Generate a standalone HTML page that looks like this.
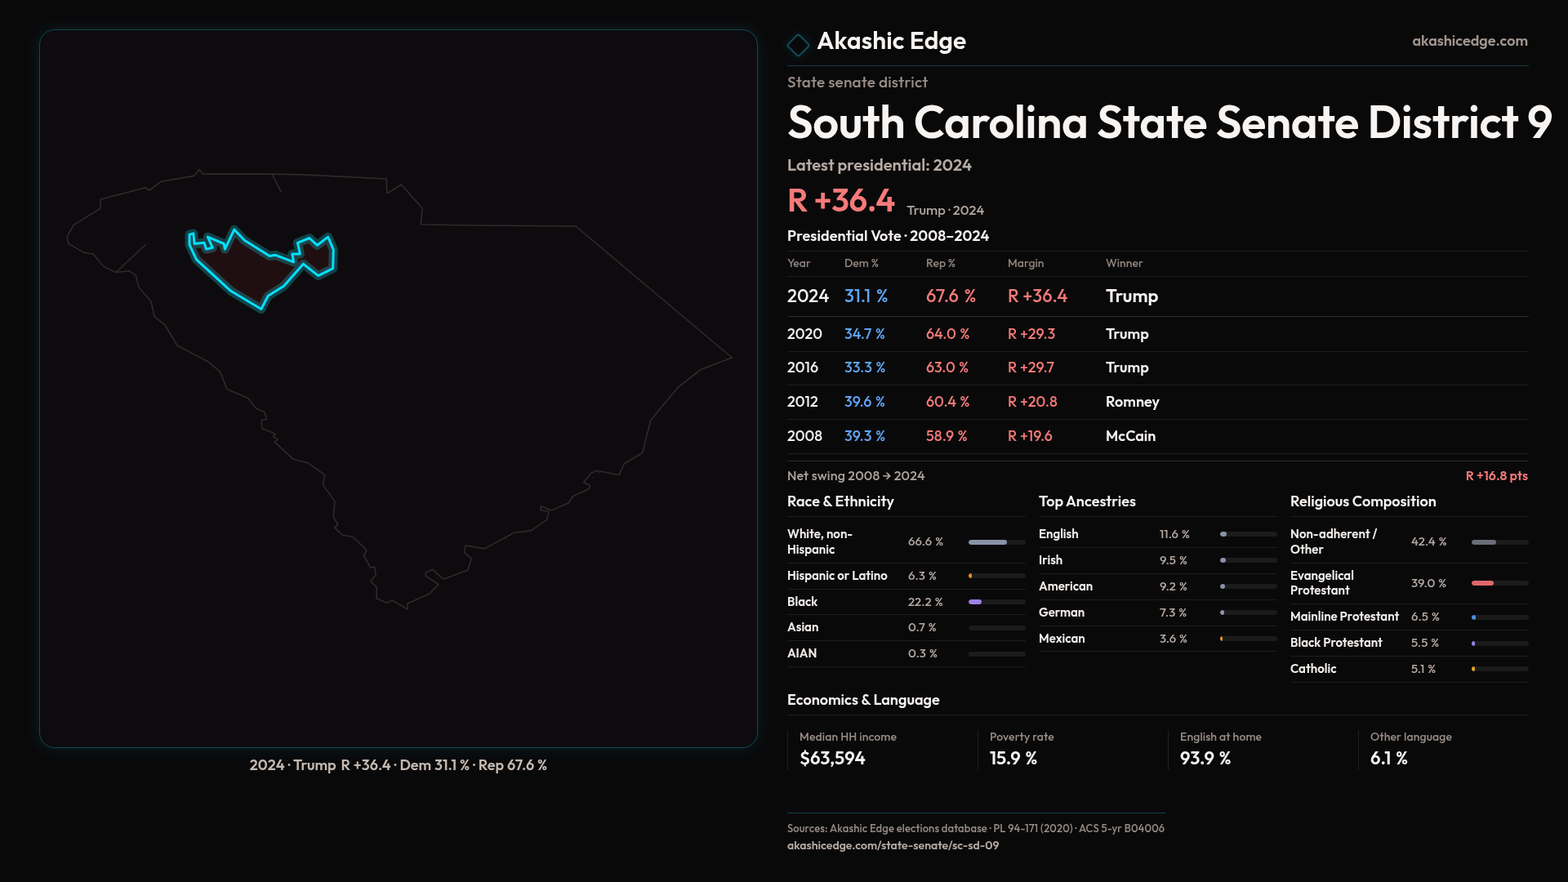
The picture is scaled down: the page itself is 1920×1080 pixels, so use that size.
<!DOCTYPE html>
<html lang="en">
<head>
<meta charset="utf-8">
<title>South Carolina State Senate District 9 — Akashic Edge</title>
<style>
*{box-sizing:border-box;margin:0;padding:0}
html,body{width:1920px;height:1080px;overflow:hidden}
body{background:#0a090a;color:#f5f2ef;font-family:"Outfit","Liberation Sans",sans-serif;position:relative}
.abs{position:absolute;white-space:nowrap}
.panel{position:absolute;left:48px;top:36px;width:880px;height:880px;border:1px solid #114954;border-radius:19px;background:#0d0b0d;box-shadow:0 0 18px rgba(20,120,140,0.2)}
.panel svg{position:absolute;left:-49px;top:-37px}
.caption{left:0;width:976px;text-align:center;top:925px;font-size:17px;font-weight:500;color:#c9c0b8}
.muted{color:#948a84}
.light{color:#b8aea7}
.red{color:#f07a78}
.blue{color:#5aa2f5}
.hline{position:absolute;height:1px;background:#1f1d1e}

.t{position:absolute;white-space:nowrap;line-height:1}
.w6{font-weight:600}.w5{font-weight:500}
.hl{position:absolute;height:1px;background:#1e1c1d}
.col{position:absolute;top:633px;width:292px}
.col .rows{padding-top:6px}
.row{display:flex;align-items:center;border-bottom:1px solid #1e1c1d;padding:6px 0 6.15px;position:relative}
.row .lb{width:148px;padding-right:13px !important;font-size:15px;font-weight:600;line-height:18.75px;color:#f3efec;white-space:normal;padding-right:4px}
.row .vl{width:74px;word-spacing:1px;font-size:15px;font-weight:500;line-height:18.75px;color:#b3a8a1;white-space:nowrap}
.row .bar{width:70px;height:6px;border-radius:3px;background:#1c1b1c;position:relative;overflow:hidden}
.row .bar i{position:absolute;left:0;top:0;bottom:0;border-radius:3px;display:block}
.stat{position:absolute;top:894px;height:49px;border-left:1px solid #211f20;padding-left:15px}
.stat .k{position:absolute;left:14px;top:1px;font-size:14px;font-weight:500;letter-spacing:0.12px;color:#998e87;white-space:nowrap;line-height:1}
.stat .v{position:absolute;word-spacing:1.5px;left:14px;top:23px;font-size:22px;font-weight:600;color:#f5f2ef;white-space:nowrap;line-height:1}
</style>
</head>
<body>
<div class="panel">
<svg width="976" height="960" viewBox="0 0 976 960">
<path fill="none" stroke="#2d2a2b" stroke-width="1.6" stroke-linejoin="round" d="M244.1,207.6 L248.7,213.1 L333,213.1 L370,213.9 L473.3,219 L473.75,236.7 L491.5,226 L517.3,255.2 L515.2,274.7 L560,275.7 L705,277 L896.25,438 L858,452.5 L830,474.5 L796.75,514.5 L786.7,554.2 L764.2,568 L758,581.7 L730.8,576.3 L723.3,579.7 L714.7,590.8 L722.5,594.2 L721.2,598.7 L701.7,607.5 L696.3,615.8 L675.3,625 L662.5,619.7 L661.7,624.7 L672,626.3 L669.7,636.3 L650,649.9 L629.5,652.3 L593.4,671.9 L570,667.9 L568.8,676.9 L577.2,683.9 L573,698 L542.9,709.2 L529.7,697.4 L521.8,700.4 L520.9,704.9 L536.9,715.7 L526,726.9 L499,738.9 L499.2,746.1 L479.7,734.7 L474.3,738.3 L461.1,732.9 L461.1,719.3 L453.8,711.2 L460.2,704 L458.7,694.4 L453.8,695 L445.4,680.5 L449,673.9 L432.8,657.8 L418.9,655 L409.7,646.1 L413.9,642.2 L408.3,633.3 L410,613.9 L395.6,593.9 L397.5,581.4 L376.7,566.7 L358.6,561.9 L336.1,541.1 L340.3,538.3 L334.2,534.2 L337.5,531.4 L320.8,524.4 L320.3,514.7 L326.7,513.3 L323.6,504.4 L313.9,500.3 L303.6,487.5 L277.8,476.4 L269.7,455.6 L256.4,443.9 L217,423 L202.2,398 L189.2,387.8 L184.8,368.7 L170,352 L166.3,337.2 L158,331.7 L141.9,333.5 L126.5,326.1 L114.4,311.3 L103,309.4 L83.9,298.3 L82,290.4 L90,275.6 L122.8,255.2 L123.3,244.1 L178.3,229.8 L183,233 L196.9,222.4 L237.6,215.4 Z M333,213.1 L344.4,235.4 M141.9,333.5 L178.3,299.6 M618.8,658.4 L619.8,659.4 M725.3,584.2 L726.3,585.2 M733.3,578.7 L734.3,579.7"/>
<g stroke-linejoin="round" stroke-linecap="round">
<path fill="#200f10" d="M232,287.1 L236.8,285.9 L238.1,298.5 L250.1,297.3 L252.5,305.1 L260.3,303.3 L254.3,290.1 L274.2,298.5 L275.4,305.1 L286.8,281.1 L299.4,294.3 L330.1,313.5 L337.3,312.3 L359.6,320.8 L357.8,311.1 L367.4,311.1 L364.4,297.3 L378.8,291.5 L388.5,300.3 L401.7,290.1 L408.3,305.7 L407.7,328.6 L389.7,337.6 L371.4,323.2 L347.6,350.3 L328.3,362.3 L319.9,378.5 L282.6,356.3 L240.5,317.8 L232,299.7 Z"/>
<path fill="none" stroke="rgba(34,211,238,0.27)" stroke-width="11" d="M232,287.1 L236.8,285.9 L238.1,298.5 L250.1,297.3 L252.5,305.1 L260.3,303.3 L254.3,290.1 L274.2,298.5 L275.4,305.1 L286.8,281.1 L299.4,294.3 L330.1,313.5 L337.3,312.3 L359.6,320.8 L357.8,311.1 L367.4,311.1 L364.4,297.3 L378.8,291.5 L388.5,300.3 L401.7,290.1 L408.3,305.7 L407.7,328.6 L389.7,337.6 L371.4,323.2 L347.6,350.3 L328.3,362.3 L319.9,378.5 L282.6,356.3 L240.5,317.8 L232,299.7 Z"/>
<path fill="none" stroke="#04e0fb" stroke-width="3" d="M232,287.1 L236.8,285.9 L238.1,298.5 L250.1,297.3 L252.5,305.1 L260.3,303.3 L254.3,290.1 L274.2,298.5 L275.4,305.1 L286.8,281.1 L299.4,294.3 L330.1,313.5 L337.3,312.3 L359.6,320.8 L357.8,311.1 L367.4,311.1 L364.4,297.3 L378.8,291.5 L388.5,300.3 L401.7,290.1 L408.3,305.7 L407.7,328.6 L389.7,337.6 L371.4,323.2 L347.6,350.3 L328.3,362.3 L319.9,378.5 L282.6,356.3 L240.5,317.8 L232,299.7 Z"/>
</g>
</svg>
</div>
<div class="t" style="left:0;width:976px;text-align:center;top:927.9px;font-size:18px;font-weight:600;word-spacing:0.35px;color:#c3b9b1">2024 · Trump <span style="margin-left:2px">R +36.4</span> · Dem 31.1 % · Rep 67.6 %</div>

<svg class="t" style="left:959px;top:36.5px" width="37" height="37" viewBox="0 0 37 37" overflow="visible"><defs><filter id="gl" x="-80%" y="-80%" width="260%" height="260%"><feGaussianBlur stdDeviation="4"/></filter></defs><rect x="8.75" y="8.75" width="19.5" height="19.5" rx="2.5" transform="rotate(45 18.5 18.5)" fill="none" stroke="#0c3a44" stroke-width="5" filter="url(#gl)" opacity="0.45"/><rect x="8.75" y="8.75" width="19.5" height="19.5" rx="2.5" transform="rotate(45 18.5 18.5)" fill="#0a090a" stroke="#0f4b56" stroke-width="2.1"/></svg>
<div class="t" style="left:1000px;top:34px;font-size:30px;font-weight:600;color:#f7f4f1;letter-spacing:0.15px">Akashic Edge</div>
<div class="t" style="right:49px;top:41.3px;font-size:18px;font-weight:600;color:#a1968f">akashicedge.com</div>
<div class="hl" style="left:964px;top:80px;width:908px;background:#153f47"></div>
<div class="t" style="left:964px;top:91px;font-size:19px;font-weight:500;color:#998e87;letter-spacing:0.15px">State senate district</div>
<div class="t" style="left:964px;top:121px;font-size:56px;font-weight:600;color:#f7f4f1;letter-spacing:-0.42px">South Carolina State Senate District 9</div>
<div class="t" style="left:964px;top:191.8px;font-size:20px;font-weight:600;color:#b5aaa3">Latest presidential: 2024</div>
<div class="t" style="left:964px;top:224px;font-size:40px;font-weight:600;color:#f67a7a;letter-spacing:-0.5px">R +36.4</div>
<div class="t" style="left:1110.3px;top:249.2px;font-size:16.5px;font-weight:500;color:#b0a59e">Trump · 2024</div>
<div class="t" style="left:964px;top:279.5px;font-size:18px;font-weight:600;color:#f5f2ef;letter-spacing:0.1px">Presidential Vote · 2008–2024</div>
<div class="hl" style="left:964px;top:307px;width:908px;background:#1e1c1d"></div>
<div class="t" style="left:964px;top:315px;font-size:14px;font-weight:500;color:#8f857e">Year</div>
<div class="t" style="left:1034px;top:315px;font-size:14px;font-weight:500;color:#8f857e">Dem %</div>
<div class="t" style="left:1134px;top:315px;font-size:14px;font-weight:500;color:#8f857e">Rep %</div>
<div class="t" style="left:1234px;top:315px;font-size:14px;font-weight:500;color:#8f857e">Margin</div>
<div class="t" style="left:1354px;top:315px;font-size:14px;font-weight:500;color:#8f857e">Winner</div>
<div class="hl" style="left:964px;top:338px;width:908px;background:#1e1c1d"></div>
<div class="t" style="left:964px;top:350.5px;font-size:22px;font-weight:500;color:#f5f2ef">2024</div>
<div class="t" style="left:1034px;top:350.5px;font-size:22px;font-weight:500;color:#5fa5f7;word-spacing:2.5px">31.1 %</div>
<div class="t" style="left:1134px;top:350.5px;font-size:22px;font-weight:500;color:#f27a78;word-spacing:2.5px">67.6 %</div>
<div class="t" style="left:1234px;top:350.5px;font-size:22px;font-weight:500;color:#f27a78">R +36.4</div>
<div class="t" style="left:1354px;top:350.5px;font-size:22px;font-weight:600;color:#f5f2ef">Trump</div>
<div class="hl" style="left:964px;top:387px;width:908px;background:#2e2b2c"></div>
<div class="t" style="left:964px;top:400px;font-size:18px;font-weight:500;color:#f5f2ef">2020</div>
<div class="t" style="left:1034px;top:400px;font-size:18px;font-weight:500;color:#5fa5f7;word-spacing:1px">34.7 %</div>
<div class="t" style="left:1134px;top:400px;font-size:18px;font-weight:500;color:#f27a78;word-spacing:1px">64.0 %</div>
<div class="t" style="left:1234px;top:400px;font-size:18px;font-weight:500;color:#f27a78">R +29.3</div>
<div class="t" style="left:1354px;top:400px;font-size:18px;font-weight:600;color:#f5f2ef">Trump</div>
<div class="hl" style="left:964px;top:430px;width:908px;background:#1e1c1d"></div>
<div class="t" style="left:964px;top:441.2px;font-size:18px;font-weight:500;color:#f5f2ef">2016</div>
<div class="t" style="left:1034px;top:441.2px;font-size:18px;font-weight:500;color:#5fa5f7;word-spacing:1px">33.3 %</div>
<div class="t" style="left:1134px;top:441.2px;font-size:18px;font-weight:500;color:#f27a78;word-spacing:1px">63.0 %</div>
<div class="t" style="left:1234px;top:441.2px;font-size:18px;font-weight:500;color:#f27a78">R +29.7</div>
<div class="t" style="left:1354px;top:441.2px;font-size:18px;font-weight:600;color:#f5f2ef">Trump</div>
<div class="hl" style="left:964px;top:471px;width:908px;background:#1e1c1d"></div>
<div class="t" style="left:964px;top:482.9px;font-size:18px;font-weight:500;color:#f5f2ef">2012</div>
<div class="t" style="left:1034px;top:482.9px;font-size:18px;font-weight:500;color:#5fa5f7;word-spacing:1px">39.6 %</div>
<div class="t" style="left:1134px;top:482.9px;font-size:18px;font-weight:500;color:#f27a78;word-spacing:1px">60.4 %</div>
<div class="t" style="left:1234px;top:482.9px;font-size:18px;font-weight:500;color:#f27a78">R +20.8</div>
<div class="t" style="left:1354px;top:482.9px;font-size:18px;font-weight:600;color:#f5f2ef">Romney</div>
<div class="hl" style="left:964px;top:512.5px;width:908px;background:#1e1c1d"></div>
<div class="t" style="left:964px;top:524.7px;font-size:18px;font-weight:500;color:#f5f2ef">2008</div>
<div class="t" style="left:1034px;top:524.7px;font-size:18px;font-weight:500;color:#5fa5f7;word-spacing:1px">39.3 %</div>
<div class="t" style="left:1134px;top:524.7px;font-size:18px;font-weight:500;color:#f27a78;word-spacing:1px">58.9 %</div>
<div class="t" style="left:1234px;top:524.7px;font-size:18px;font-weight:500;color:#f27a78">R +19.6</div>
<div class="t" style="left:1354px;top:524.7px;font-size:18px;font-weight:600;color:#f5f2ef">McCain</div>
<div class="hl" style="left:964px;top:555px;width:908px;background:#1e1c1d"></div>
<div class="hl" style="left:964px;top:564px;width:908px;background:#2c292a"></div>
<div class="t" style="left:964px;top:573.6px;font-size:16px;font-weight:500;color:#aea39c;letter-spacing:0.15px">Net swing 2008 → 2024</div>
<div class="t" style="right:49px;top:573.6px;font-size:16px;font-weight:600;color:#f27a78">R +16.8 pts</div>
<div class="t" style="left:964px;top:604.75px;font-size:18px;font-weight:600;color:#f5f2ef">Race &amp; Ethnicity</div>
<div class="hl" style="left:964px;top:632px;width:292px;background:#1e1c1d"></div>
<div class="col" style="left:964px"><div class="rows"><div class="row"><div class="lb">White, non-Hispanic</div><div class="vl">66.6 %</div><div class="bar"><i style="width:46.6px;background:#8993a6"></i></div></div><div class="row"><div class="lb">Hispanic or Latino</div><div class="vl">6.3 %</div><div class="bar"><i style="width:4.4px;background:#e0941c"></i></div></div><div class="row"><div class="lb">Black</div><div class="vl">22.2 %</div><div class="bar"><i style="width:15.5px;background:#9a80e6"></i></div></div><div class="row"><div class="lb">Asian</div><div class="vl">0.7 %</div><div class="bar"><i style="width:0.0px;background:#3aa6a0"></i></div></div><div class="row"><div class="lb">AIAN</div><div class="vl">0.3 %</div><div class="bar"><i style="width:0.0px;background:#888"></i></div></div></div></div>
<div class="t" style="left:1272px;top:604.75px;font-size:18px;font-weight:600;color:#f5f2ef">Top Ancestries</div>
<div class="hl" style="left:1272px;top:632px;width:292px;background:#1e1c1d"></div>
<div class="col" style="left:1272px"><div class="rows"><div class="row"><div class="lb">English</div><div class="vl">11.6 %</div><div class="bar"><i style="width:8.1px;background:#8993a6"></i></div></div><div class="row"><div class="lb">Irish</div><div class="vl">9.5 %</div><div class="bar"><i style="width:6.7px;background:#8993a6"></i></div></div><div class="row"><div class="lb">American</div><div class="vl">9.2 %</div><div class="bar"><i style="width:6.4px;background:#8993a6"></i></div></div><div class="row"><div class="lb">German</div><div class="vl">7.3 %</div><div class="bar"><i style="width:5.1px;background:#8993a6"></i></div></div><div class="row"><div class="lb">Mexican</div><div class="vl">3.6 %</div><div class="bar"><i style="width:2.5px;background:#e0941c"></i></div></div></div></div>
<div class="t" style="left:1580px;top:604.75px;font-size:18px;font-weight:600;color:#f5f2ef">Religious Composition</div>
<div class="hl" style="left:1580px;top:632px;width:292px;background:#1e1c1d"></div>
<div class="col" style="left:1580px"><div class="rows"><div class="row"><div class="lb">Non-adherent / Other</div><div class="vl">42.4 %</div><div class="bar"><i style="width:29.7px;background:#6b6e77"></i></div></div><div class="row"><div class="lb">Evangelical Protestant</div><div class="vl">39.0 %</div><div class="bar"><i style="width:27.3px;background:#e0676c"></i></div></div><div class="row"><div class="lb">Mainline Protestant</div><div class="vl">6.5 %</div><div class="bar"><i style="width:4.5px;background:#4d8fe3"></i></div></div><div class="row"><div class="lb">Black Protestant</div><div class="vl">5.5 %</div><div class="bar"><i style="width:3.9px;background:#9a80e6"></i></div></div><div class="row"><div class="lb">Catholic</div><div class="vl">5.1 %</div><div class="bar"><i style="width:3.6px;background:#e3a71e"></i></div></div></div></div>
<div class="t" style="left:964px;top:847.7px;font-size:18px;font-weight:600;color:#f5f2ef">Economics &amp; Language</div>
<div class="hl" style="left:964px;top:875px;width:908px;background:#1e1c1d"></div>
<div class="stat" style="left:964px"><div class="k">Median HH income</div><div class="v">$63,594</div></div>
<div class="stat" style="left:1197px"><div class="k">Poverty rate</div><div class="v">15.9 %</div></div>
<div class="stat" style="left:1430px"><div class="k">English at home</div><div class="v">93.9 %</div></div>
<div class="stat" style="left:1663px"><div class="k">Other language</div><div class="v">6.1 %</div></div>
<div class="hl" style="left:964px;top:995px;width:463px;background:#15404a"></div>
<div class="t" style="left:964px;top:1007.5px;font-size:13px;font-weight:500;color:#998e87;letter-spacing:0.14px">Sources: Akashic Edge elections database · PL 94-171 (2020) · ACS 5-yr B04006</div>
<div class="t" style="left:964px;top:1028.25px;font-size:14px;font-weight:600;color:#b5aaa3">akashicedge.com/state-senate/sc-sd-09</div>
<script>
(function(){
var c=document.createElement('span');c.style.cssText='position:absolute;left:-9999px;top:0;visibility:hidden;font-size:40px;white-space:nowrap;font-family:monospace';c.textContent='Akashic Edge 0123 South';document.body.appendChild(c);
var w1=c.getBoundingClientRect().width;c.style.fontFamily='Outfit,monospace';var w2=c.getBoundingClientRect().width;document.body.removeChild(c);
if(Math.abs(w1-w2)>0.5)return;
var W=[364.3, 0, 183.4, 141.5, 172.5, 937.4, 226.1, 131.9, 95.1, 247.6, 28.9, 41.9, 36, 44.5, 45.9, 51.4, 53.5, 61.3, 73.4, 64.4, 43.1, 49.9, 53.3, 58.3, 52.7, 38, 50.4, 52.2, 57, 52.7, 37.7, 49.9, 53.4, 60.9, 66.1, 43.2, 50, 50.6, 54.9, 61.5, 168.7, 76.3, 130.9, 138.6, 43.1, 122.8, 34.8, 37.3, 42.6, 38.4, 34.7, 36.3, 35.8, 119.1, 48.7, 36.9, 29.3, 33.8, 66.3, 33.8, 56.3, 33.2, 56.7, 34, 178.9, 150.3, 43.7, 153.5, 43.2, 133.3, 34.8, 112.9, 34.2, 56.5, 30.2, 186.7, 119, 80.7, 78.9, 58.3, 100.2, 62.5, 100, 46, 462.3, 259.4];
var els=document.querySelectorAll('.t,.lb,.vl,.k,.v');
for(var i=0;i<els.length;i++){var e=els[i];if(!W[i]||e.tagName.toLowerCase()==='svg')continue;
var s=e.style.whiteSpace;e.style.whiteSpace='nowrap';var r=document.createRange();r.selectNodeContents(e);var w=r.getBoundingClientRect().width;e.style.whiteSpace=s;
if(w>0){var k=Math.max(0.86,Math.min(1.12,W[i]/w));var fs=parseFloat(getComputedStyle(e).fontSize);e.style.fontSize=(fs*k).toFixed(2)+'px';}}
})();
</script>
</body>
</html>
